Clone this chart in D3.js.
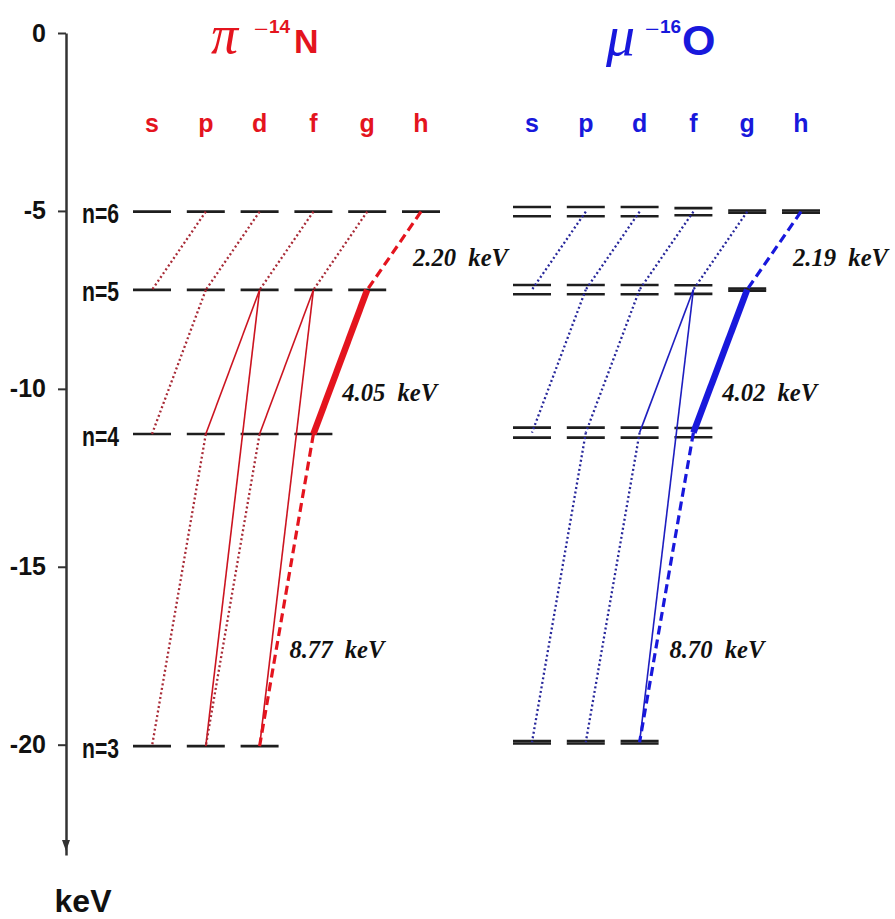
<!DOCTYPE html>
<html><head><meta charset="utf-8">
<script src="https://cdn.jsdelivr.net/npm/d3@7"></script>
<style>body{margin:0;background:#fff}</style>
</head><body>
<svg id="chart" width="895" height="919"></svg>
<script>
// ---------------- data ----------------
const subshells = ["s","p","d","f","g","h"];
const shells = [3, 4, 5, 6];
const yTicks = [0, -5, -10, -15, -20];
// binding energies (keV) of shells n = 3..6
const piLevels = [-20.04, -11.27, -7.22, -5.02];
const muLevels = [-19.93, -11.23, -7.21, -5.02];
// fine-structure splitting (keV, half gap) per shell n=3..6 and subshell
const muSplit = [
  [0.035, 0.035, 0.035],
  [0.14, 0.14, 0.14, 0.13],
  [0.13, 0.13, 0.13, 0.12, 0.03],
  [0.13, 0.13, 0.13, 0.10, 0.03, 0.03]
];
// transitions: [upper, lower, kind]
const piTransitions = [
  ["6p","5s","dot"],["6d","5p","dot"],["6f","5d","dot"],["6g","5f","dot"],["6h","5g","dash"],
  ["5p","4s","dot"],["5d","4p","solid"],["5d","3p","solid"],["5f","4d","solid"],["5f","3d","solid"],["5g","4f","thick"],
  ["4p","3s","dot"],["4d","3p","dot"],["4f","3d","dash"]
];
const muTransitions = [
  ["6p","5s","dot"],["6d","5p","dot"],["6f","5d","dot"],["6g","5f","dot"],["6h","5g","dash"],
  ["5p","4s","dot"],["5d","4p","dot"],["5f","4d","solid"],["5f","3d","solid"],["5g","4f","thick"],
  ["4p","3s","dot"],["4d","3p","dot"],["4f","3d","dash"]
];
const piLabels = ["2.20", "4.05", "8.77"];
const muLabels = ["2.19", "4.02", "8.70"];
const labelEnergy = [-6.32, -10.11, -17.33];
const labelColumn = ["h", "g", "f"];

// ---------------- drawing ----------------
const svg = d3.select("#chart");
const RED = "#e4141e", BLUE = "#1818dc";

const y = d3.scaleLinear().domain([0, -23.1]).range([33, 855]);
const xPi = d3.scalePoint().domain(subshells).range([152, 421]);
const xMu = d3.scalePoint().domain(subshells).range([532, 801]);
const half = 19;

// axis
const axisG = svg.append("g").attr("transform", "translate(66,0)")
  .call(d3.axisLeft(y).tickValues(yTicks).tickSize(8).tickSizeOuter(0).tickPadding(12).tickFormat(d => String(d)));
axisG.select(".domain").attr("stroke", "#333").attr("stroke-width", 2.5);
axisG.selectAll(".tick line").attr("stroke", "#333").attr("stroke-width", 2);
axisG.selectAll(".tick text").attr("fill", "#111").attr("font-family", "Liberation Sans, Arial, sans-serif")
  .attr("font-weight", "bold").attr("font-size", 25);
const yEnd = y(-23.1);
axisG.append("path").attr("d", `M-4,${yEnd-15} L4,${yEnd-15} L0,${yEnd-4} Z`).attr("fill", "#333");

svg.append("text").attr("x", 83).attr("y", 912).attr("text-anchor", "middle")
  .attr("font-family", "Liberation Sans, Arial, sans-serif").attr("font-weight", "bold").attr("font-size", 32)
  .attr("fill", "#111").text("keV");

// n labels
svg.selectAll(".nlab").data(shells).join("text").attr("class", "nlab")
  .attr("x", 82).attr("y", (d, i) => y(piLevels[i]) + 2)
  .attr("dominant-baseline", "central")
  .attr("font-family", "Liberation Sans, Arial, sans-serif").attr("font-weight", "bold").attr("font-size", 28)
  .attr("textLength", 37).attr("lengthAdjust", "spacingAndGlyphs")
  .attr("fill", "#111").text(d => "n=" + d);

function parse(s) { return { n: +s[0], l: subshells.indexOf(s[1]) }; }

function panel(x, levels, split, transitions, color, dotColor, lineColor, labels) {
  const g = svg.append("g");
  // subshell letters
  g.selectAll(".sub").data(subshells).join("text")
    .attr("x", d => x(d)).attr("y", 132).attr("text-anchor", "middle")
    .attr("font-family", "Liberation Sans, Arial, sans-serif").attr("font-weight", "bold").attr("font-size", 25)
    .attr("fill", color).text(d => d);
  // levels
  const segs = [];
  shells.forEach((n, i) => {
    for (let l = 0; l < n; l++) {
      const s = split ? split[i][l] : 0;
      if (s > 0) {
        segs.push({ l, e: levels[i] + s, w: 2.6 });
        segs.push({ l, e: levels[i] - s, w: 2.6 });
      } else segs.push({ l, e: levels[i], w: 2.6 });
    }
  });
  g.selectAll(".lev").data(segs).join("line")
    .attr("x1", d => x(subshells[d.l]) - half).attr("x2", d => x(subshells[d.l]) + half)
    .attr("y1", d => y(d.e)).attr("y2", d => y(d.e))
    .attr("stroke", "#1e1e1e").attr("stroke-width", d => d.w);
  // transitions
  const styles = {
    dot: { c: dotColor, w: 2.3, da: "2,2.6" },
    solid: { c: lineColor, w: 1.6, da: null },
    thick: { c: color, w: 6.5, da: null },
    dash: { c: color, w: 3.2, da: "9,5" }
  };
  g.selectAll(".tr").data(transitions).join("line")
    .each(function (d) {
      const a = parse(d[0]), b = parse(d[1]), st = styles[d[2]];
      d3.select(this)
        .attr("x1", x(subshells[a.l])).attr("y1", y(levels[shells.indexOf(a.n)]))
        .attr("x2", x(subshells[b.l])).attr("y2", y(levels[shells.indexOf(b.n)]))
        .attr("stroke", st.c).attr("stroke-width", st.w)
        .attr("stroke-dasharray", st.da);
    });
  // energy labels
  const dxs = [-8, -25, -24];
  g.selectAll(".elab").data(labels).join("text")
    .attr("x", (d, i) => x(labelColumn[i]) + dxs[i])
    .attr("y", (d, i) => y(labelEnergy[i]))
    .attr("dominant-baseline", "central")
    .attr("font-family", "Liberation Serif, Times New Roman, serif").attr("font-weight", "bold")
    .attr("font-style", "italic").attr("font-size", 26)
    .attr("textLength", 95).attr("lengthAdjust", "spacingAndGlyphs")
    .attr("fill", "#111").text(d => d + "\u00a0\u00a0keV");
}

panel(xPi, piLevels, null, piTransitions, RED, "#a82a36", "#cc1420", piLabels);
panel(xMu, muLevels, muSplit, muTransitions, BLUE, "#26269a", "#1e1ec0", muLabels);

// titles
function title(sym, symX, symSize, supX, sup, supSize, elX, el, elSize, color, base) {
  const t = svg.append("g").attr("fill", color);
  t.append("text").attr("x", symX).attr("y", base).attr("font-family", "Liberation Serif, Times New Roman, serif")
    .attr("font-style", "italic").attr("font-size", symSize).text(sym);
  t.append("text").attr("x", supX).attr("y", 38).attr("font-family", "Liberation Serif, serif")
    .attr("font-size", 26).text("\u2212");
  t.append("text").attr("x", supX + 15).attr("y", 33).attr("font-family", "Liberation Sans, Arial, sans-serif")
    .attr("font-weight", "bold").attr("font-size", supSize).text(sup);
  t.append("text").attr("x", elX).attr("y", base).attr("font-family", "Liberation Sans, Arial, sans-serif")
    .attr("font-weight", "bold").attr("font-size", elSize).text(el);
}
title("\u03c0", 211, 54, 254, "14", 19, 294, "N", 34, RED, 53);
title("\u03bc", 606, 58, 645, "16", 19, 682, "O", 43, BLUE, 55);
</script>
</body></html>
